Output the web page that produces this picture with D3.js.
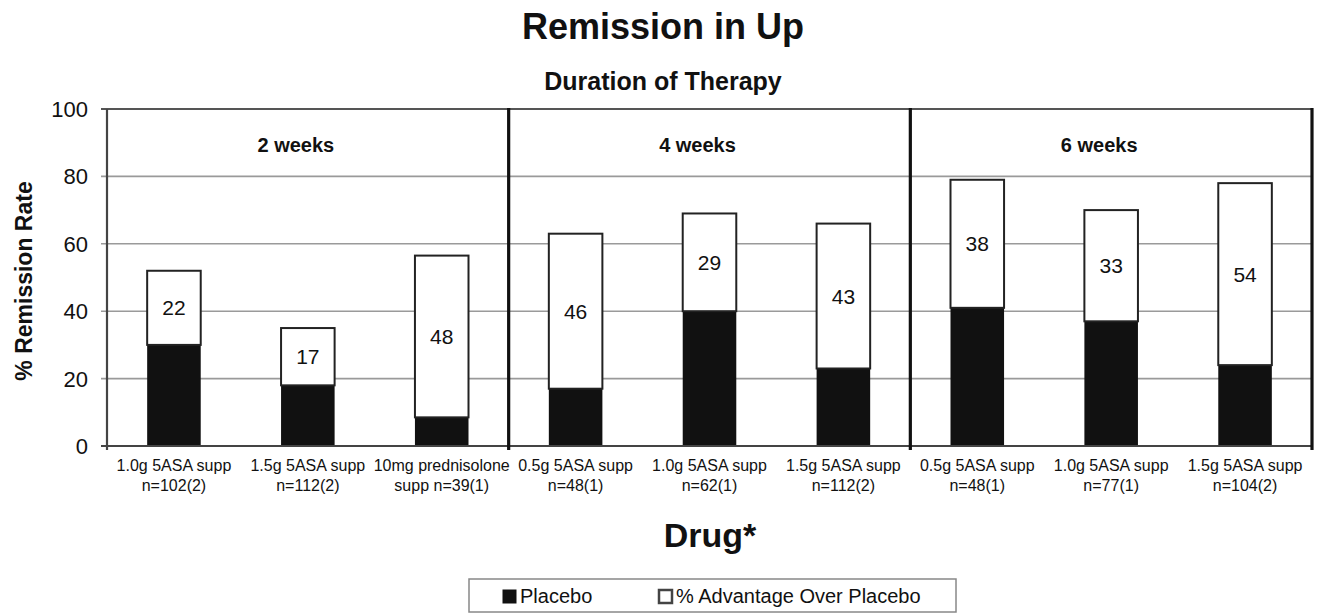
<!DOCTYPE html>
<html><head><meta charset="utf-8">
<script src="https://cdn.jsdelivr.net/npm/d3@7"></script>
<style>
html,body{margin:0;padding:0;background:#fff;}
svg{display:block;font-family:"Liberation Sans",Arial,Helvetica,sans-serif;}
</style></head>
<body><svg id="chart" width="1333" height="613"></svg>
<script>
// ---- data ----
const drugLine1 = ["1.0g 5ASA supp","1.5g 5ASA supp","10mg prednisolone","0.5g 5ASA supp","1.0g 5ASA supp","1.5g 5ASA supp","0.5g 5ASA supp","1.0g 5ASA supp","1.5g 5ASA supp"];
const drugLine2 = ["n=102(2)","n=112(2)","supp n=39(1)","n=48(1)","n=62(1)","n=112(2)","n=48(1)","n=77(1)","n=104(2)"];
const durations = ["2 weeks","4 weeks","6 weeks"];
const durationIndex = [0,0,0,1,1,1,2,2,2];
const placebo = [30,18,8.5,17,40,23,41,37,24];
const advantage = [22,17,48,46,29,43,38,33,54];
const yTicks = [0,20,40,60,80,100];
const legendLabels = ["Placebo","% Advantage Over Placebo"];

(function () {
// ---- layout ----
const svg = d3.select("#chart");
const pLeft = 107, pRight = 1312, pTop = 109, pBottom = 446;

const x = d3.scaleBand().domain(d3.range(drugLine1.length)).range([pLeft, pRight]).paddingInner(0.6).paddingOuter(0.3);
const y = d3.scaleLinear().domain([0, 100]).range([pBottom, pTop]);

// gridlines
svg.append("g").selectAll("line").data(yTicks.filter(d => d > 0 && d < 100)).join("line")
  .attr("x1", pLeft - 6).attr("x2", pRight).attr("y1", d => y(d)).attr("y2", d => y(d))
  .attr("stroke", "#9a9a9a").attr("stroke-width", 1.6);

// top frame line
svg.append("line").attr("x1", pLeft - 6).attr("x2", pRight).attr("y1", y(100)).attr("y2", y(100))
  .attr("stroke", "#555").attr("stroke-width", 2.2);

// y axis labels
svg.append("g").selectAll("text").data(yTicks).join("text")
  .attr("x", pLeft - 19).attr("y", d => y(d)).attr("dy", "0.36em")
  .attr("text-anchor", "end").attr("font-size", 22).attr("fill", "#111").text(d => d);

// bars
const bars = svg.append("g");
bars.selectAll("rect.plc").data(placebo).join("rect").attr("class", "plc")
  .attr("x", (d, i) => x(i)).attr("width", x.bandwidth())
  .attr("y", d => y(d)).attr("height", d => y(0) - y(d))
  .attr("fill", "#111");
bars.selectAll("rect.adv").data(advantage).join("rect").attr("class", "adv")
  .attr("x", (d, i) => x(i)).attr("width", x.bandwidth())
  .attr("y", (d, i) => y(placebo[i] + d)).attr("height", (d, i) => y(placebo[i]) - y(placebo[i] + d))
  .attr("fill", "#fff").attr("stroke", "#222").attr("stroke-width", 2);

// value labels
svg.append("g").selectAll("text").data(advantage).join("text")
  .attr("x", (d, i) => x(i) + x.bandwidth() / 2)
  .attr("y", (d, i) => y(placebo[i] + d / 2)).attr("dy", "0.36em")
  .attr("text-anchor", "middle").attr("font-size", 21).attr("fill", "#111").text(d => d);

// y axis line and bottom line
svg.append("line").attr("x1", pLeft).attr("x2", pLeft).attr("y1", pTop).attr("y2", pBottom + 4)
  .attr("stroke", "#444").attr("stroke-width", 2.2);
svg.append("line").attr("x1", pLeft - 6).attr("x2", pRight).attr("y1", pBottom).attr("y2", pBottom)
  .attr("stroke", "#444").attr("stroke-width", 2.2);

// group dividers & right border
const dividers = [3, 6].map(i => pLeft + i * x.step());
svg.append("g").selectAll("line").data(dividers.concat([pRight])).join("line")
  .attr("x1", d => d).attr("x2", d => d).attr("y1", pTop - 1).attr("y2", pBottom + 4)
  .attr("stroke", "#111").attr("stroke-width", 3.2);

// duration labels
svg.append("g").selectAll("text").data(durations).join("text")
  .attr("x", (d, g) => {
    const idx = durationIndex.map((v, i) => v === g ? i : -1).filter(i => i >= 0);
    return (x(idx[0]) + x(idx[idx.length - 1]) + x.bandwidth()) / 2 - 12;
  })
  .attr("y", 152).attr("text-anchor", "middle").attr("font-size", 20).attr("font-weight", "bold")
  .attr("fill", "#111").text(d => d);

// x labels
const xl = svg.append("g").selectAll("text").data(drugLine1).join("text")
  .attr("text-anchor", "middle").attr("font-size", 16).attr("fill", "#111");
xl.append("tspan").attr("x", (d, i) => x(i) + x.bandwidth() / 2).attr("y", 471).text(d => d);
xl.append("tspan").attr("x", (d, i) => x(i) + x.bandwidth() / 2).attr("y", 491).text((d, i) => drugLine2[i]);

// titles
svg.append("text").attr("x", 663).attr("y", 39).attr("text-anchor", "middle")
  .attr("font-size", 36).attr("font-weight", "bold").attr("fill", "#111").text("Remission in Up");
svg.append("text").attr("x", 663).attr("y", 90).attr("text-anchor", "middle")
  .attr("font-size", 25).attr("font-weight", "bold").attr("fill", "#111").text("Duration of Therapy");
svg.append("text").attr("x", 710).attr("y", 547).attr("text-anchor", "middle")
  .attr("font-size", 34).attr("font-weight", "bold").attr("fill", "#111").text("Drug*");
svg.append("text").attr("transform", "translate(32,281) rotate(-90)").attr("text-anchor", "middle")
  .attr("font-size", 23).attr("font-weight", "bold").attr("fill", "#111").text("% Remission Rate");

// legend
const lg = svg.append("g");
lg.append("rect").attr("x", 469).attr("y", 579).attr("width", 487).attr("height", 33)
  .attr("fill", "#fff").attr("stroke", "#888").attr("stroke-width", 1.5);
const legendX = [502, 658];
lg.selectAll("rect.sw").data(legendLabels).join("rect").attr("class", "sw")
  .attr("x", (d, i) => legendX[i] + 1).attr("y", 590).attr("width", 13).attr("height", 13)
  .attr("fill", (d, i) => i === 0 ? "#111" : "#fff").attr("stroke", (d, i) => i === 0 ? "#111" : "#444")
  .attr("stroke-width", (d, i) => i === 0 ? 1 : 2.5);
lg.selectAll("text").data(legendLabels).join("text")
  .attr("x", (d, i) => legendX[i] + 18).attr("y", 603).attr("font-size", 20).attr("fill", "#111").text(d => d);
})();
</script></body></html>
